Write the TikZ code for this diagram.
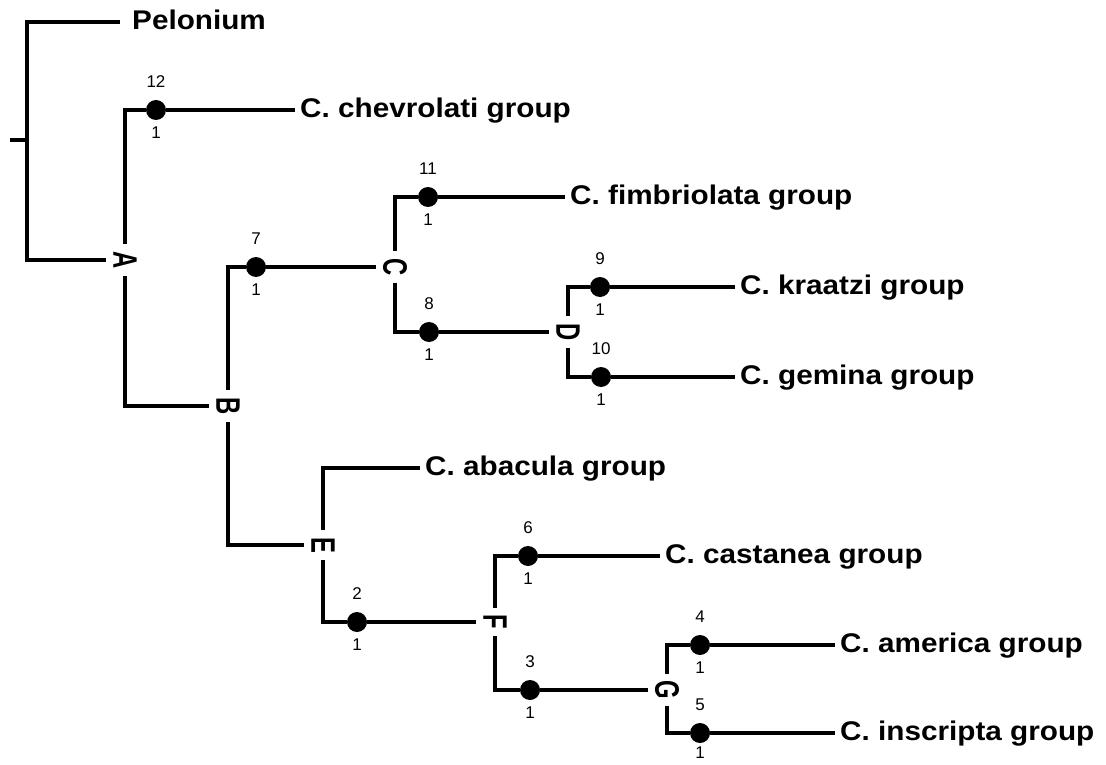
\documentclass[tikz,border=0pt]{standalone}
\usepackage{fontspec}
\setmainfont{Liberation Sans}
\newfontfamily\leaffont[FakeStretch=1.1]{Liberation Sans}
\usepackage{graphicx}
\newcommand{\rlet}[1]{\rotatebox{-90}{\scalebox{0.7}[1]{#1}}}
\newcommand{\lowr}[1]{\raisebox{-5pt}{#1}}
\begin{document}
\begin{tikzpicture}[x=1pt,y=-1pt,
 br/.style={line width=3.2pt},
 leaf/.style={font=\leaffont\fontsize{27}{30}\selectfont\bfseries, inner xsep=5pt, inner ysep=0pt, anchor=mid west},
 clade/.style={font=\fontsize{34}{38}\selectfont\bfseries, inner sep=7pt},
 dot/.style={circle, fill, minimum size=20pt, inner sep=0pt},
 num/.style={font=\fontsize{17}{19}\selectfont, inner sep=0pt},
 up/.style={label={[num,label distance=12pt]above:#1}},
 dn/.style={label={[num,label distance=6pt]below:#1}}]
\useasboundingbox (0,0) rectangle (1106,765);
% root
\coordinate (r0) at (10,140);
\coordinate (r) at (27,140);
% clade letters
\node[clade] (A) at (125,260) {\rlet{A}};
\node[clade] (B) at (228,406) {\rlet{B}};
\node[clade] (C) at (395,267) {\rlet{C}};
\node[clade] (D) at (568,332) {\rlet{D}};
\node[clade] (E) at (323,545) {\rlet{E}};
\node[clade] (F) at (495,622) {\rlet{F}};
\node[clade] (G) at (667,690) {\rlet{G}};
% dots
\node[dot,up=12,dn=1] (d12) at (156,110) {};
\node[dot,up=7,dn=1]  (d7)  at (256,267) {};
\node[dot,up=11,dn=1] (d11) at (428,197) {};
\node[dot,up=8,dn=1]  (d8)  at (429,332) {};
\node[dot,up=9,dn=1]  (d9)  at (600,287) {};
\node[dot,up=10,dn=1] (d10) at (601,377) {};
\node[dot,up=2,dn=1]  (d2)  at (357,622) {};
\node[dot,up=6,dn=1]  (d6)  at (528,556) {};
\node[dot,up=3,dn=1]  (d3)  at (530,690) {};
\node[dot,up=4,dn=1]  (d4)  at (700,645) {};
\node[dot,up=5,label={[num,label distance=3pt]below:1}]  (d5)  at (700,733) {};
% leaves
\node[leaf,inner xsep=12pt] (pel) at (120,22) {\lowr{Pelonium}};
\node[leaf] (che) at (295,110) {\lowr{C. chevrolati group}};
\node[leaf] (fim) at (565,197) {\lowr{C. fimbriolata group}};
\node[leaf] (kra) at (735,287) {\lowr{C. kraatzi group}};
\node[leaf] (gem) at (735,377) {\lowr{C. gemina group}};
\node[leaf] (aba) at (420,468) {\lowr{C. abacula group}};
\node[leaf] (cas) at (660,556) {\lowr{C. castanea group}};
\node[leaf] (ame) at (835,645) {\lowr{C. america group}};
\node[leaf] (ins) at (835,733) {\lowr{C. inscripta group}};
% branches
\draw[br] (r0) -- (r);
\draw[br] (r) |- (pel.mid west);
\draw[br] (r) |- (A.west);
\draw[br] (A.north) |- (d12) -- (che.mid west);
\draw[br] (A.south) |- (B.west);
\draw[br] (B.north) |- (d7) -- (C.west);
\draw[br] (C.north) |- (d11) -- (fim.mid west);
\draw[br] (C.south) |- (d8) -- (D.west);
\draw[br] (D.north) |- (d9) -- (kra.mid west);
\draw[br] (D.south) |- (d10) -- (gem.mid west);
\draw[br] (B.south) |- (E.west);
\draw[br] (E.north) |- (aba.mid west);
\draw[br] (E.south) |- (d2) -- (F.west);
\draw[br] (F.north) |- (d6) -- (cas.mid west);
\draw[br] (F.south) |- (d3) -- (G.west);
\draw[br] (G.north) |- (d4) -- (ame.mid west);
\draw[br] (G.south) |- (d5) -- (ins.mid west);
\end{tikzpicture}
\end{document}
